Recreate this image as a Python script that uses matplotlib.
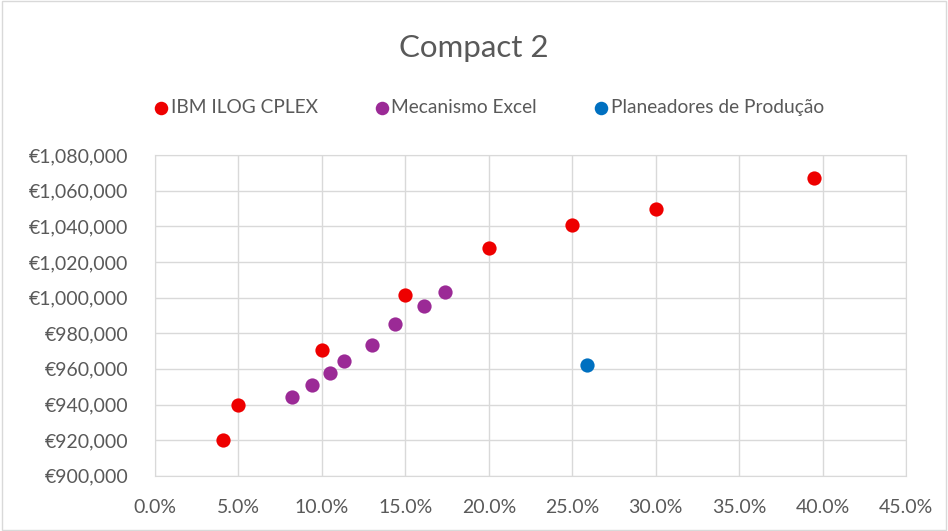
import matplotlib
matplotlib.use("Agg")
import matplotlib.pyplot as plt
from matplotlib.ticker import FuncFormatter, MultipleLocator

# cost vs. percentage for each planning method
cplex_x = [4.1, 5.0, 10.0, 15.0, 20.0, 25.0, 30.0, 39.5]
cplex_y = [920000, 939500, 970500, 1001500, 1028000, 1041000, 1050000, 1067200]

excel_x = [8.2, 9.4, 10.5, 11.3, 13.0, 14.4, 16.1, 17.4]
excel_y = [944000, 951000, 957600, 964200, 973500, 985000, 995200, 1003200]

planners_x = [25.9]
planners_y = [962300]

TEXT = "#595959"
GRID = "#d9d9d9"
FONT = ["Lato", "DejaVu Sans"]

plt.rcParams["font.family"] = FONT

fig = plt.figure(figsize=(9.48, 5.31), dpi=100, facecolor="white")
ax = fig.add_axes([0.1635, 0.104, 0.7922, 0.604])

ax.scatter(cplex_x, cplex_y, s=105, color="#ee0000", label="IBM ILOG CPLEX", zorder=3, linewidths=0)
ax.scatter(excel_x, excel_y, s=105, color="#9b2a96", label="Mecanismo Excel", zorder=3, linewidths=0)
ax.scatter(planners_x, planners_y, s=105, color="#0070c0", label="Planeadores de Produção", zorder=3, linewidths=0)

ax.set_xlim(0, 45)
ax.set_ylim(900000, 1080000)
ax.xaxis.set_major_locator(MultipleLocator(5))
ax.yaxis.set_major_locator(MultipleLocator(20000))
ax.xaxis.set_major_formatter(FuncFormatter(lambda v, p: f"{v:.1f}%"))
ax.yaxis.set_major_formatter(FuncFormatter(lambda v, p: f"€{v:,.0f}"))
ax.grid(True, color=GRID, linewidth=1)
ax.set_axisbelow(True)
for s in ax.spines.values():
    s.set_color(GRID)
ax.tick_params(length=0, labelsize=14, colors=TEXT)
ax.tick_params(axis="y", pad=19)
ax.tick_params(axis="x", pad=17)

fig.text(0.5, 0.91, "Compact 2", ha="center", va="center", fontsize=22.5, color=TEXT)
fig.legend(loc="center", bbox_to_anchor=(0.516, 0.797), ncol=3, frameon=False,
           fontsize=13.8, labelcolor=TEXT, handlelength=0.7, handletextpad=0.15,
           columnspacing=3.0, markerscale=0.95)

# outer chart border
fig.patches.append(plt.Rectangle((0.002, 0.002), 0.996, 0.996, transform=fig.transFigure,
                                 fill=False, edgecolor=GRID, linewidth=1))

fig.savefig("out.png", dpi=100, facecolor="white")
